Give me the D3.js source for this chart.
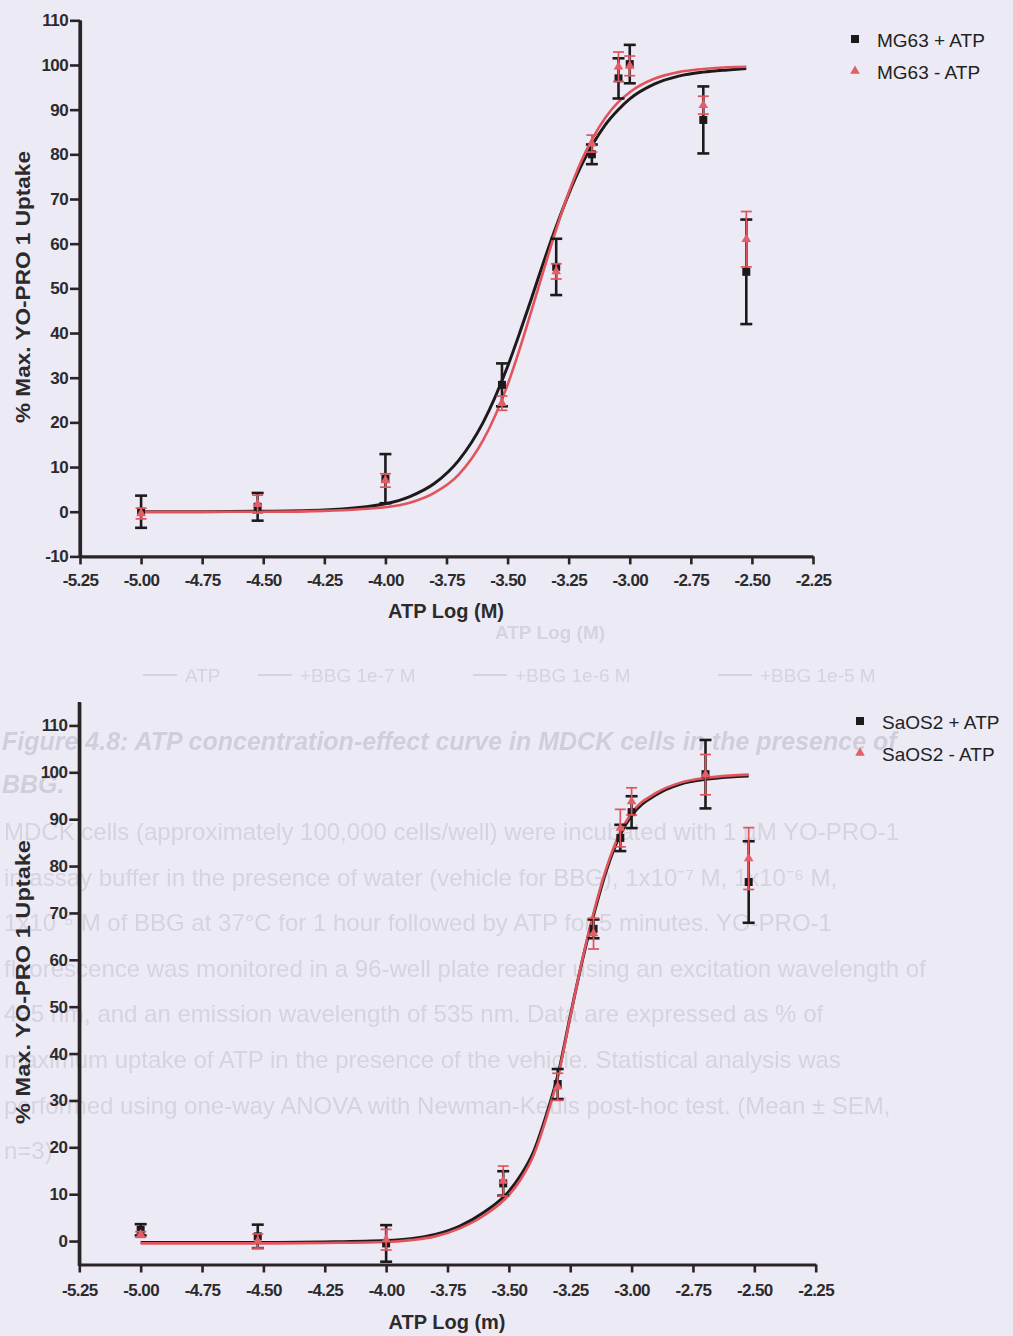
<!DOCTYPE html>
<html>
<head>
<meta charset="utf-8">
<script src="https://cdn.jsdelivr.net/npm/d3@7"></script>
<style>
  html, body { margin: 0; padding: 0; background: #eceaf5; }
  svg { display: block; }
</style>
</head>
<body>
<svg id="page" width="1013" height="1336"></svg>
<script>
// ATP concentrations, log10 (M), shared by both cell lines
const logConc = [-5.000, -4.523, -4.000, -3.523, -3.301, -3.155, -3.046, -3.000, -2.699, -2.523];

// MG63: % maximal YO-PRO-1 uptake (mean, SEM)
const mg63PlusMean  = [0.0, 1.1, 7.4, 28.4, 54.8, 80.0, 97.0, 100.2, 87.7, 53.7];
const mg63PlusSem   = [3.6, 3.1, 5.5, 4.8, 6.3, 2.2, 4.5, 4.3, 7.5, 11.7];
const mg63MinusMean = [-0.4, 1.7, 7.0, 24.3, 53.8, 82.4, 99.6, 99.8, 91.0, 61.0];
const mg63MinusSem  = [1.2, 2.0, 1.5, 1.6, 1.7, 1.9, 3.3, 2.2, 2.0, 6.2];

// SaOS2: % maximal YO-PRO-1 uptake (mean, SEM)
const saos2PlusMean  = [2.4, 1.0, -0.5, 12.3, 33.5, 66.6, 86.0, 91.5, 99.6, 76.6];
const saos2PlusSem   = [1.2, 2.5, 3.9, 2.6, 3.2, 2.0, 2.8, 3.4, 7.3, 8.7];
const saos2MinusMean = [1.4, 0.0, 0.3, 12.8, 32.9, 65.6, 88.1, 93.8, 99.5, 81.6];
const saos2MinusSem  = [0.6, 1.5, 2.2, 3.2, 2.9, 3.3, 4.0, 2.9, 4.3, 6.6];

// Sigmoidal dose-response fits, sampled along log [ATP]
const fitLogConc    = [-5.0, -4.75, -4.5, -4.25, -4.0, -3.9, -3.8, -3.7, -3.6, -3.5, -3.45, -3.4, -3.35, -3.3, -3.25, -3.2, -3.15, -3.1, -3.05, -3.0, -2.9, -2.8, -2.7, -2.6, -2.523];
const mg63PlusFit   = [0.0, 0.0, 0.1, 0.4, 1.8, 3.4, 6.3, 11.5, 20.0, 32.5, 40.1, 48.1, 56.3, 64.0, 71.1, 77.3, 82.4, 86.6, 89.8, 92.4, 95.7, 97.5, 98.4, 98.9, 99.2];
const mg63MinusFit  = [0.0, 0.0, 0.0, 0.2, 1.0, 2.0, 4.2, 8.3, 16.0, 28.4, 36.5, 45.4, 54.5, 63.4, 71.4, 78.3, 83.8, 88.2, 91.5, 93.9, 96.9, 98.4, 99.1, 99.5, 99.6];
const saos2PlusFit  = [-0.3, -0.3, -0.3, -0.2, 0.1, 0.5, 1.4, 3.2, 6.2, 10.6, 14.2, 19.0, 26.5, 35.5, 48.0, 60.0, 70.5, 79.5, 86.3, 90.8, 95.2, 97.5, 98.5, 99.0, 99.2];
const saos2MinusFit = [-0.5, -0.5, -0.5, -0.4, -0.2, 0.2, 1.0, 2.7, 5.5, 9.8, 13.3, 18.2, 25.8, 35.0, 47.8, 60.2, 71.0, 80.0, 86.8, 91.3, 95.6, 97.8, 98.8, 99.3, 99.5];

// Axis ticks
const xTicks = [-5.25, -5.00, -4.75, -4.50, -4.25, -4.00, -3.75, -3.50, -3.25, -3.00, -2.75, -2.50, -2.25];
const yTicksTop = [-10, 0, 10, 20, 30, 40, 50, 60, 70, 80, 90, 100, 110];
const yTicksBottom = [0, 10, 20, 30, 40, 50, 60, 70, 80, 90, 100, 110];

// Faded page text lying behind the panels
const ghostParagraph = [
  "MDCK cells (approximately 100,000 cells/well) were incubated with 1 \u00b5M YO-PRO-1",
  "in assay buffer in the presence of water (vehicle for BBG), 1x10\u207b\u2077 M, 1x10\u207b\u2076 M,",
  "1x10\u207b\u2075 M of BBG at 37\u00b0C for 1 hour followed by ATP for 5 minutes. YO-PRO-1",
  "fluorescence was monitored in a 96-well plate reader using an excitation wavelength of",
  "485 nm, and an emission wavelength of 535 nm. Data are expressed as % of",
  "maximum uptake of ATP in the presence of the vehicle. Statistical analysis was",
  "performed using one-way ANOVA with Newman-Keuls post-hoc test. (Mean \u00b1 SEM,",
  "n=3)"
];
const ghostCaption = ["Figure 4.8: ATP concentration-effect curve in MDCK cells in the presence of", "BBG."];
const ghostLegend = ["ATP", "+BBG 1e-7 M", "+BBG 1e-6 M", "+BBG 1e-5 M"];

const FONT = "'Liberation Sans', Arial, Helvetica, sans-serif";
const INK = "#2a2426";
const RED = "#e2545c";
const GHOST = "#d6d3df";

const svg = d3.select("#page");
svg.append("rect").attr("width", 1013).attr("height", 1336).attr("fill", "#eceaf5");

const defs = svg.append("defs");
defs.append("filter").attr("id", "soft")
  .append("feGaussianBlur").attr("stdDeviation", 0.7);

// ---- faded background text ----
const ghost = svg.append("g").attr("font-family", FONT).attr("fill", GHOST).attr("filter", "url(#soft)");
ghost.append("text").attr("x", 550).attr("y", 639).attr("text-anchor", "middle")
  .attr("font-size", 19).attr("font-weight", "bold").text("ATP Log (M)");
const ghostLegendX = [185, 300, 515, 760];
ghostLegend.forEach((t, i) => {
  const gx = ghostLegendX[i];
  ghost.append("line").attr("x1", gx - 42).attr("x2", gx - 8).attr("y1", 675).attr("y2", 675)
    .attr("stroke", GHOST).attr("stroke-width", 2);
  ghost.append("text").attr("x", gx).attr("y", 682).attr("font-size", 19).text(t);
});
ghostCaption.forEach((t, i) => {
  ghost.append("text").attr("x", 2).attr("y", 750 + i * 43)
    .attr("font-size", 25).attr("font-weight", "bold").attr("font-style", "italic")
    .attr("fill", "#d1cedb").text(t);
});
ghostParagraph.forEach((t, i) => {
  ghost.append("text").attr("x", 4).attr("y", 840 + i * 45.6)
    .attr("font-size", 24).text(t);
});

// ---- panels ----
function drawPanel(p) {
  const x = d3.scaleLinear().domain([-5.25, -2.25]).range([p.left, p.right]);
  const y = d3.scaleLinear().domain(p.yDomain).range([p.bottom, p.top]);
  const g = svg.append("g");

  const line = vals => d3.line()
    .x((d, i) => x(fitLogConc[i]))
    .y(d => y(d))
    .curve(d3.curveMonotoneX)(vals);

  // axes
  const xAxis = g.append("g")
    .attr("transform", `translate(0,${p.bottom})`)
    .call(d3.axisBottom(x).tickValues(xTicks).tickFormat(d => d.toFixed(2))
      .tickSize(8).tickPadding(p.xPad).tickSizeOuter(0));
  const yAxis = g.append("g")
    .attr("transform", `translate(${p.left},0)`)
    .call(d3.axisLeft(y).tickValues(p.yTicks).tickFormat(d => String(d))
      .tickSize(10).tickPadding(2).tickSizeOuter(0));
  [xAxis, yAxis].forEach(a => {
    a.attr("font-family", FONT).attr("font-size", 17).attr("font-weight", "bold");
    a.select(".domain").attr("stroke", INK).attr("stroke-width", 3.2);
    a.selectAll(".tick line").attr("stroke", INK).attr("stroke-width", 2.6);
    a.selectAll(".tick text").attr("fill", "#2d2a2c").attr("letter-spacing", -0.6);
  });
  // close the axis corner
  g.append("line").attr("x1", p.left).attr("x2", p.left).attr("y1", p.top).attr("y2", p.bottom + 1.6)
    .attr("stroke", INK).attr("stroke-width", 3.2);

  // fitted curves
  g.append("path").attr("d", line(p.fitA)).attr("fill", "none")
    .attr("stroke", "#1e1a1c").attr("stroke-width", 3);
  g.append("path").attr("d", line(p.fitB)).attr("fill", "none")
    .attr("stroke", RED).attr("stroke-width", 2.6);

  // error bars and markers
  function series(mean, sem, color, width, cap, marker) {
    const s = g.append("g");
    logConc.forEach((c, i) => {
      const cx = x(c), lo = y(mean[i] - sem[i]), hi = y(mean[i] + sem[i]);
      s.append("line").attr("x1", cx).attr("x2", cx).attr("y1", lo).attr("y2", hi)
        .attr("stroke", color).attr("stroke-width", width);
      [lo, hi].forEach(yy => s.append("line")
        .attr("x1", cx - cap).attr("x2", cx + cap).attr("y1", yy).attr("y2", yy)
        .attr("stroke", color).attr("stroke-width", width));
      marker(s, cx, y(mean[i]));
    });
  }
  const square = (s, cx, cy) => s.append("rect").attr("x", cx - 4).attr("y", cy - 4)
    .attr("width", 8).attr("height", 8).attr("fill", "#1e1a1c");
  const triangle = (s, cx, cy) => s.append("path")
    .attr("d", d3.symbol(d3.symbolTriangle, 40)())
    .attr("transform", `translate(${cx},${cy})`).attr("fill", "#e45e68");
  series(p.meanA, p.semA, "#1e1a1c", 2.6, 6, square);
  series(p.meanB, p.semB, RED, 1.7, 5.5, triangle);

  // axis titles
  g.append("text").attr("transform", `translate(${p.yTitleX},${p.yTitleY}) rotate(-90)`)
    .attr("text-anchor", "middle").attr("font-family", FONT).attr("font-size", 20)
    .attr("font-weight", "bold").attr("fill", "#2d2a2c")
    .attr("textLength", p.yTitleLen).attr("lengthAdjust", "spacingAndGlyphs")
    .text("% Max. YO-PRO 1 Uptake");
  g.append("text").attr("x", p.xTitleX).attr("y", p.xTitleY).attr("text-anchor", "middle")
    .attr("font-family", FONT).attr("font-size", 20).attr("font-weight", "bold")
    .attr("fill", "#2d2a2c").text(p.xTitle);

  // legend
  const lg = g.append("g").attr("font-family", FONT).attr("font-size", 19).attr("fill", "#222");
  square(lg, p.legendX, p.legendY);
  triangle(lg, p.legendX, p.legendY + 32);
  lg.append("text").attr("x", p.legendX + 22).attr("y", p.legendY + 8).text(p.labelA);
  lg.append("text").attr("x", p.legendX + 22).attr("y", p.legendY + 40).text(p.labelB);
}

drawPanel({
  left: 80, right: 813, top: 20.3, bottom: 556.4, yDomain: [-10, 110], yTicks: yTicksTop, xPad: 10,
  meanA: mg63PlusMean, semA: mg63PlusSem, meanB: mg63MinusMean, semB: mg63MinusSem,
  fitA: mg63PlusFit, fitB: mg63MinusFit,
  labelA: "MG63 + ATP", labelB: "MG63 - ATP", legendX: 855, legendY: 39,
  yTitleX: 30, yTitleY: 287, yTitleLen: 272,
  xTitle: "ATP Log (M)", xTitleX: 446, xTitleY: 618
});

drawPanel({
  left: 79.3, right: 815.7, top: 702, bottom: 1264.5, yDomain: [-5, 115], yTicks: yTicksBottom, xPad: 11,
  meanA: saos2PlusMean, semA: saos2PlusSem, meanB: saos2MinusMean, semB: saos2MinusSem,
  fitA: saos2PlusFit, fitB: saos2MinusFit,
  labelA: "SaOS2 + ATP", labelB: "SaOS2 - ATP", legendX: 860, legendY: 721,
  yTitleX: 30, yTitleY: 982, yTitleLen: 284,
  xTitle: "ATP Log (m)", xTitleX: 447, xTitleY: 1329
});
</script>
</body>
</html>
